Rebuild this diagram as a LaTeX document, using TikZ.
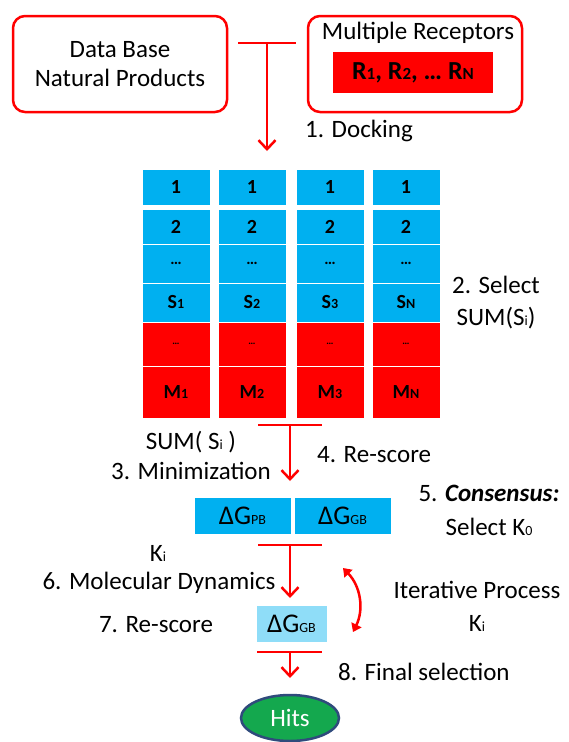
\documentclass[tikz,border=0pt]{standalone}
\usepackage{fontspec}
\setmainfont{Carlito}
\usetikzlibrary{arrows.meta,positioning,shapes.geometric}
\definecolor{cellblue}{HTML}{00B0F0}
\definecolor{cellred}{HTML}{FF0000}
\definecolor{lightcell}{HTML}{8FDDF8}
\definecolor{hitgreen}{HTML}{14A84E}
\definecolor{hitblue}{HTML}{2F4B7C}
\newcommand{\lo}[2][14]{{\fontsize{#1}{#1}\selectfont #2}}

\begin{document}
\begin{tikzpicture}[x=1pt, y=-1pt, >={Straight Barb[length=9pt,width=17pt]},
  font=\fontsize{25}{29}\selectfont,
  box/.style={draw=red, line width=2.5pt, rounded corners=12pt,
    minimum width=214pt, minimum height=96pt},
  cell/.style={fill=cellblue, draw=white, line width=1pt, minimum width=68pt,
    inner sep=0pt, font=\fontsize{20}{20}\selectfont\bfseries},
  redcell/.style={cell, fill=cellred},
  dgbox/.style={cell, minimum height=37pt, font=\fontsize{27}{27}\selectfont},
  flow/.style={draw=red, line width=2.5pt},
  lbl/.style={inner sep=0pt}]
\useasboundingbox (0,0) rectangle (568,742);

\node[box, align=center] (db) at (120,64) {Data Base\\Natural Products};
\node[box] (rec) at (415,64) {};
\node[lbl] (rectitle) at (418,33) {Multiple Receptors};
\node[fill=cellred, minimum width=160pt, minimum height=41pt,
  font=\fontsize{26}{26}\selectfont\bfseries] (recset) at (413,72.5)
  {R\lo[17]{1}, R\lo[17]{2}, … R\lo[17]{N}};

\coordinate (dockl) at (238,43);
\coordinate (dockr) at (296,43);
\coordinate (dockm) at (267,43);
\coordinate (docke) at (267,151);
\draw[flow] (dockl) -- (dockr);
\draw[flow,->] (dockm) -- (docke);
\node[lbl, anchor=west] (dock) at (305,131) {1. Docking};

\foreach \c/\x/\s in {1/176/1,2/252/2,3/330/3,4/406/N} {
  \node[cell, minimum height=36pt] (r1c\c) at (\x,187) {1};
  \node[cell, minimum height=35pt] (r2c\c) at (\x,226.5) {2};
  \node[cell, minimum height=39pt] (r3c\c) at (\x,263.5) {\lo[16]{…}};
  \node[cell, minimum height=39pt] (r4c\c) at (\x,302.5) {S\lo{\s}};
  \node[redcell, minimum height=44pt] (r5c\c) at (\x,344) {\lo[10]{…}};
  \node[redcell, minimum height=52pt] (r6c\c) at (\x,392) {M\lo{\s}};
}
\node[lbl, align=center, font=\fontsize{25}{32}\selectfont] (select) at (496,303)
  {2. Select\\SUM(S\lo{i})};

\coordinate (suml) at (258,425);
\coordinate (sumr) at (322,425);
\coordinate (summ) at (290,425);
\coordinate (sume) at (290,481);
\draw[flow] (suml) -- (sumr);
\draw[flow,->] (summ) -- (sume);
\node[lbl, align=center, font=\fontsize{25}{30}\selectfont] (minim) at (191,455)
  {SUM( S\lo{i} )\\3. Minimization};
\node[lbl, anchor=west] (rescore) at (317,455) {4. Re-score};

\node[dgbox, minimum width=97pt] (dgpb) at (242.5,515.5) {ΔG\lo{PB}};
\node[dgbox, minimum width=97pt] (dggb) at (342.5,515.5) {ΔG\lo{GB}};
\node[lbl, align=center, font=\fontsize{25}{34}\selectfont] (consensus) at (489,510)
  {5. \textbf{\textit{Consensus:}}\\Select K\lo{0}};

\coordinate (kil) at (258,545);
\coordinate (kir) at (322,545);
\coordinate (kim) at (290,545);
\coordinate (kie) at (290,598);
\draw[flow] (kil) -- (kir);
\draw[flow,->] (kim) -- (kie);
\node[lbl] (ki) at (158,553) {K\lo{i}};
\node[lbl] (md) at (159,583) {6. Molecular Dynamics};
\node[lbl] (rescoremd) at (156,625) {7. Re-score};
\node[dgbox, fill=lightcell, minimum width=71pt] (dgmd) at (291.5,623.5) {ΔG\lo{GB}};

\coordinate (itertop) at (343,568);
\coordinate (iterbot) at (353,632);
\draw[red, line width=2.5pt, {Triangle[length=8pt,width=11pt]}-{Triangle[length=8pt,width=11pt]}]
  (itertop) to[bend left=35] (iterbot);
\node[lbl, align=center, font=\fontsize{25}{33}\selectfont] (iter) at (477,606)
  {Iterative Process\\K\lo{i}};

\coordinate (hitl) at (257,652);
\coordinate (hitr) at (322,652);
\coordinate (hitm) at (290,652);
\coordinate (hite) at (290,678);
\draw[flow] (hitl) -- (hitr);
\draw[flow,->] (hitm) -- (hite);
\node[lbl, anchor=west] (final) at (338,672) {8. Final selection};
\node[ellipse, fill=hitgreen, draw=hitblue, line width=2.5pt, minimum width=98pt,
  minimum height=46pt, text=white] (hits) at (290,718) {Hits};
\end{tikzpicture}
\end{document}
